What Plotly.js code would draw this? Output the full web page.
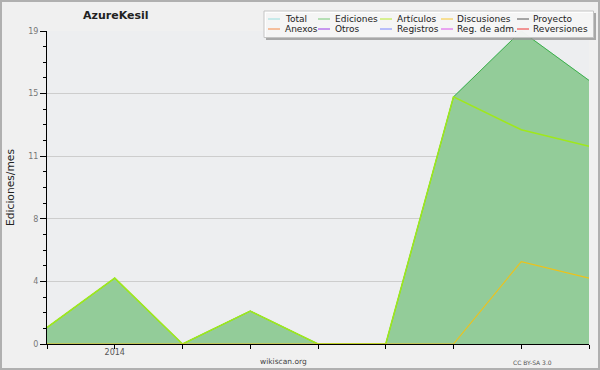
<!DOCTYPE html>
<html>
<head>
<meta charset="utf-8">
<script src="https://cdn.plot.ly/plotly-3.0.1.min.js"></script>
<style>html,body{margin:0;padding:0;background:#f0f0f0;}#chart{width:600px;height:370px;}</style>
</head>
<body>
<div id="chart"></div>
<script>
// ---- data ----
var months = ['2013-12','2014-01','2014-02','2014-03','2014-04','2014-05','2014-06','2014-07','2014-08'];
var totalVals = [1, 4, 0, 2, 0, 0, 15, 19, 16];
var edicionesVals = [1, 4, 0, 2, 0, 0, 15, 19, 16];
var articulosVals = [1, 4, 0, 2, 0, 0, 15, 13, 12];
var discusionesVals = [0, 0, 0, 0, 0, 0, 0, 5, 4];
var yTickVals = [0, 3.8, 7.6, 11.4, 15.2, 19];
var yTickText = ['0', '4', '8', '11', '15', '19'];
var xTickVals = [1];
var xTickText = ['2014'];
var yTitle = 'Ediciones/mes';
var legendNames = ['Total','Ediciones','Artículos','Discusiones','Proyecto','Anexos','Otros','Registros','Reg. de adm.','Reversiones'];
var legendColors = ['#99dede','#77c977','#b8ea2e','#f8c832','#555555','#f58844','#9a3ae8','#7a86ff','#dc55ec','#ee3434'];

// ---- geometry helpers (pixel -> paper) ----
var W = 600, Hh = 370, mL = 47, mR = 11, mT = 31, mB = 26;
var PW = W - mL - mR, PH = Hh - mT - mB;
function px(x){ return (x - mL) / PW; }
function py(y){ return (Hh - mB - y) / PH; }

var xIdx = months.map(function(m, i){ return i; });

var traces = [
  {x: xIdx, y: totalVals, type: 'scatter', mode: 'lines', name: 'Total',
   line: {color: legendColors[0], width: 1}, hoverinfo: 'skip'},
  {x: xIdx, y: edicionesVals, type: 'scatter', mode: 'lines', name: 'Ediciones',
   fill: 'tozeroy', fillcolor: 'rgb(147,204,153)',
   line: {color: '#3fae45', width: 1}, hoverinfo: 'skip'},
  {x: xIdx, y: articulosVals, type: 'scatter', mode: 'lines', name: 'Artículos',
   line: {color: '#9fe81c', width: 1.6}, hoverinfo: 'skip'},
  {x: xIdx, y: discusionesVals, type: 'scatter', mode: 'lines', name: 'Discusiones',
   line: {color: '#eec21a', width: 1.1}, hoverinfo: 'skip'}
];

// ---- custom legend (2 rows x 5 cols) ----
var colLineX = [268, 318, 380, 441, 517];
var colTextX = [284, 334, 396, 456, 532];
var rowY = [19, 29];
var shapes = [
  // outer frame
  {type:'rect', xref:'paper', yref:'paper', x0:px(1), x1:px(599), y0:py(1), y1:py(369),
   line:{color:'#b0b0b0', width:2}, fillcolor:'rgba(0,0,0,0)', layer:'above'},
  // legend shadow
  {type:'rect', xref:'paper', yref:'paper', x0:px(266), x1:px(596), y0:py(13), y1:py(40),
   line:{width:0}, fillcolor:'rgba(150,150,150,0.8)', layer:'above'},
  // legend box
  {type:'rect', xref:'paper', yref:'paper', x0:px(264), x1:px(593.5), y0:py(11), y1:py(37.5),
   line:{color:'#c4c4c4', width:1}, fillcolor:'rgba(255,255,255,0.88)', layer:'above'}
];
var annotations = [];
legendNames.forEach(function(n, i){
  var r = Math.floor(i / 5), c = i % 5;
  shapes.push({type:'line', xref:'paper', yref:'paper',
    x0:px(colLineX[c]), x1:px(colLineX[c] + 12), y0:py(rowY[r]), y1:py(rowY[r]),
    line:{color:legendColors[i], width:1}, layer:'above'});
  annotations.push({text:n, xref:'paper', yref:'paper', x:px(colTextX[c]), y:py(rowY[r]),
    xanchor:'left', yanchor:'middle', showarrow:false, borderpad:0,
    font:{family:'DejaVu Sans', size:9, color:'#222'}});
});
// title + y title + footer texts
annotations.push({text:'<b>AzureKesil</b>', xref:'paper', yref:'paper', x:px(116), y:py(16),
  xanchor:'center', yanchor:'middle', showarrow:false, borderpad:0,
  font:{family:'DejaVu Sans', size:11, color:'#222'}});
annotations.push({text:yTitle, xref:'paper', yref:'paper', x:px(10), y:py(188), textangle:-90,
  xanchor:'center', yanchor:'middle', showarrow:false, borderpad:0,
  font:{family:'DejaVu Sans', size:10.7, color:'#222'}});
annotations.push({text:'wikiscan.org', xref:'paper', yref:'paper', x:px(283), y:py(361),
  xanchor:'center', yanchor:'middle', showarrow:false, borderpad:0,
  font:{family:'DejaVu Sans', size:7.5, color:'#444'}});
annotations.push({text:'CC BY-SA 3.0', xref:'paper', yref:'paper', x:px(553), y:py(362),
  xanchor:'right', yanchor:'middle', showarrow:false, borderpad:0,
  font:{family:'DejaVu Sans', size:6, color:'#555'}});

var layout = {
  width: 600, height: 370,
  margin: {l: mL, r: mR, t: mT, b: mB, pad: 0},
  paper_bgcolor: '#f0f0f0',
  plot_bgcolor: '#edeef0',
  showlegend: false,
  font: {family: 'DejaVu Sans', size: 8, color: '#666'},
  xaxis: {
    range: [0, 8], fixedrange: true,
    showline: true, linecolor: '#000', linewidth: 1,
    showgrid: false, zeroline: false,
    tickmode: 'array', tickvals: xTickVals, ticktext: xTickText,
    ticks: 'outside', ticklen: 0, tickcolor: '#000',
    tickfont: {family: 'DejaVu Sans', size: 8, color: '#555'},
    minor: {tickmode: 'linear', tick0: 0, dtick: 1, ticks: 'outside', ticklen: 4, tickcolor: '#000', showgrid: false}
  },
  yaxis: {
    range: [0, 19], fixedrange: true,
    showline: true, linecolor: '#000', linewidth: 1,
    zeroline: false,
    showgrid: true, gridcolor: '#cdcdcd', gridwidth: 1,
    tickmode: 'array', tickvals: yTickVals, ticktext: yTickText,
    ticks: 'outside', ticklen: 6, tickcolor: '#000',
    tickfont: {family: 'DejaVu Sans', size: 8, color: '#777'},
    minor: {tickmode: 'linear', tick0: 0, dtick: 0.95, ticks: 'outside', ticklen: 3, tickcolor: '#000', showgrid: false}
  },
  shapes: shapes,
  annotations: annotations
};

Plotly.newPlot('chart', traces, layout, {displayModeBar: false, staticPlot: true});
</script>
</body>
</html>
